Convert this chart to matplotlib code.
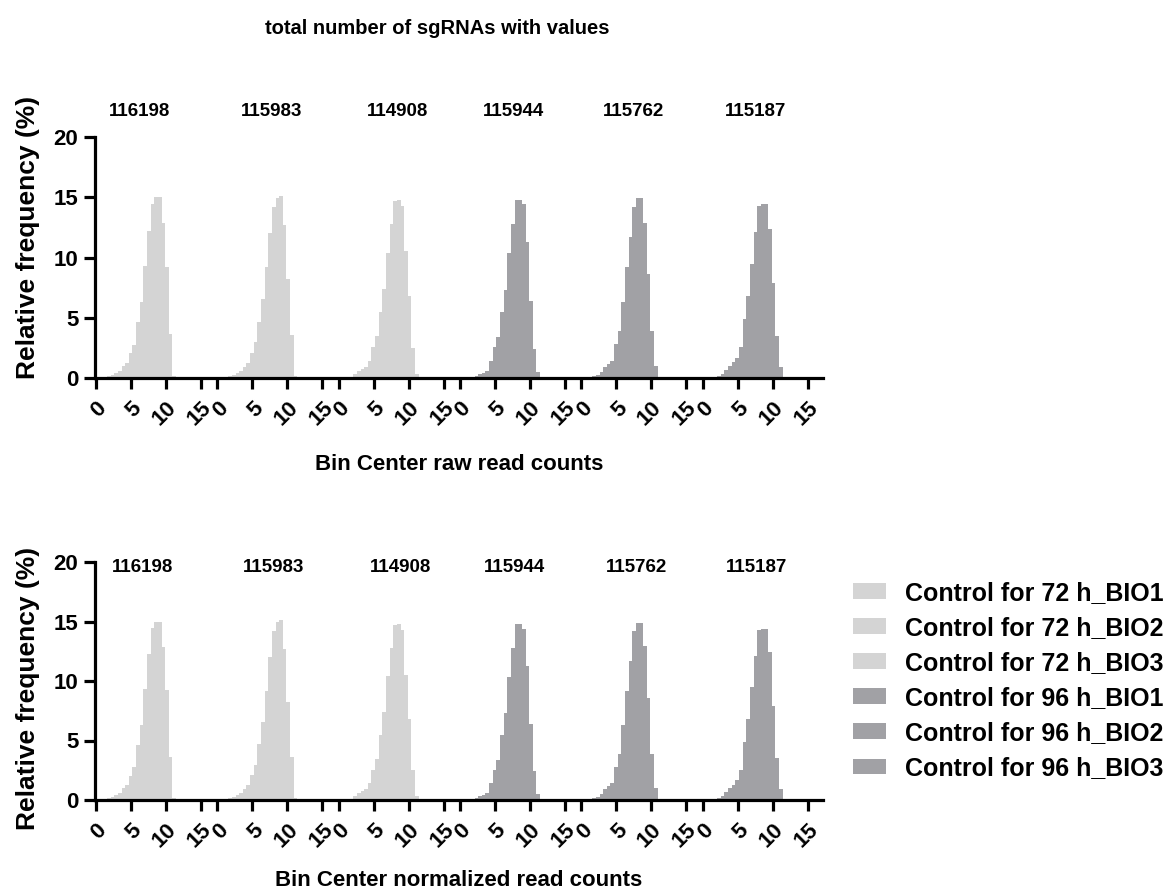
import matplotlib
matplotlib.use("Agg")
import matplotlib.pyplot as plt
from matplotlib.patches import Patch

plt.rcParams["font.family"] = ["Liberation Sans", "DejaVu Sans"]
plt.rcParams["font.weight"] = "bold"

# ---- data -------------------------------------------------------------
series_names = [
    "Control for 72 h_BIO1", "Control for 72 h_BIO2", "Control for 72 h_BIO3",
    "Control for 96 h_BIO1", "Control for 96 h_BIO2", "Control for 96 h_BIO3",
]
sgrna_totals = [116198, 115983, 114908, 115944, 115762, 115187]

bin_width = 0.52
# relative frequency (%) per bin, bins start at 0 (log2 read counts)
raw_72_bio1 = [0.08, 0.10, 0.12, 0.20, 0.25, 0.41, 0.60, 0.97, 1.25, 2.05, 2.77,
               4.62, 6.28, 9.32, 12.23, 14.45, 15.00, 15.00, 12.86, 9.24, 3.65, 0.19]
raw_72_bio2 = [0.05, 0.10, 0.10, 0.15, 0.25, 0.41, 0.60, 0.89, 1.25, 2.08, 2.96,
               4.67, 6.55, 9.18, 12.03, 14.16, 14.94, 15.10, 12.70, 8.20, 3.60, 0.19]
raw_72_bio3 = [0.00, 0.00, 0.00, 0.00, 0.33, 0.60, 0.75, 0.94, 1.44, 2.54, 3.46,
               5.45, 7.39, 10.40, 12.78, 14.70, 14.80, 14.30, 10.50, 6.80, 2.50, 0.30]
raw_96_bio1 = [0.12, 0.12, 0.12, 0.10, 0.20, 0.33, 0.40, 0.60, 1.44, 2.54, 3.37,
               5.45, 7.30, 10.35, 12.80, 14.77, 14.77, 14.40, 11.26, 6.40, 2.40, 0.47]
raw_96_bio2 = [0.05, 0.08, 0.10, 0.15, 0.28, 0.47, 0.90, 1.16, 1.44, 2.80, 3.90,
               6.30, 9.20, 11.70, 14.20, 14.90, 14.90, 12.90, 8.60, 3.90, 1.00, 0.00]
raw_96_bio3 = [0.08, 0.08, 0.08, 0.08, 0.20, 0.33, 0.66, 1.00, 1.30, 1.70, 2.54,
               4.90, 6.83, 9.46, 12.10, 14.30, 14.40, 14.40, 12.40, 7.90, 3.50, 0.90]

norm_72_bio1 = [0.08, 0.10, 0.12, 0.20, 0.25, 0.41, 0.60, 0.97, 1.25, 2.05, 2.77,
                4.62, 6.28, 9.32, 12.23, 14.45, 15.00, 15.00, 12.86, 9.24, 3.65, 0.19]
norm_72_bio2 = [0.05, 0.10, 0.10, 0.15, 0.25, 0.41, 0.60, 0.89, 1.25, 2.08, 2.96,
                4.67, 6.55, 9.18, 12.03, 14.16, 14.94, 15.10, 12.70, 8.20, 3.60, 0.19]
norm_72_bio3 = [0.00, 0.00, 0.00, 0.00, 0.33, 0.60, 0.75, 0.94, 1.44, 2.54, 3.46,
                5.45, 7.39, 10.40, 12.78, 14.70, 14.80, 14.30, 10.50, 6.80, 2.50, 0.30]
norm_96_bio1 = [0.12, 0.12, 0.12, 0.10, 0.20, 0.33, 0.40, 0.60, 1.44, 2.54, 3.37,
                5.45, 7.30, 10.35, 12.80, 14.77, 14.77, 14.40, 11.26, 6.40, 2.40, 0.47]
norm_96_bio2 = [0.05, 0.08, 0.10, 0.15, 0.28, 0.47, 0.90, 1.16, 1.44, 2.80, 3.90,
                6.30, 9.20, 11.70, 14.20, 14.90, 14.90, 12.90, 8.60, 3.90, 1.00, 0.00]
norm_96_bio3 = [0.08, 0.08, 0.08, 0.08, 0.20, 0.33, 0.66, 1.00, 1.30, 1.70, 2.54,
                4.90, 6.83, 9.46, 12.10, 14.30, 14.40, 14.40, 12.40, 7.90, 3.50, 0.90]

raw_series = [raw_72_bio1, raw_72_bio2, raw_72_bio3, raw_96_bio1, raw_96_bio2, raw_96_bio3]
norm_series = [norm_72_bio1, norm_72_bio2, norm_72_bio3, norm_96_bio1, norm_96_bio2, norm_96_bio3]

x_tick_values = [0, 5, 10, 15]
y_tick_values = [0, 5, 10, 15, 20]

# ---- styling / layout -------------------------------------------------
light = "#d4d4d4"
dark = "#a1a1a5"
colors = [light, light, light, dark, dark, dark]
segment_step = 17.34          # horizontal offset between consecutive histograms
total_label_dx_top = [6.2, 7.7, 8.4, 7.7, 7.5, 7.6]
total_label_dx_bot = [6.6, 8.1, 8.9, 7.8, 7.9, 7.7]

W, H = 1175, 893
fig = plt.figure(figsize=(W / 100, H / 100), dpi=100)


def frac_box(x0, y_top, x1, y_bot):
    return [x0 / W, 1 - y_bot / H, (x1 - x0) / W, (y_bot - y_top) / H]


ax_top = fig.add_axes(frac_box(95, 137, 823, 378))
ax_bot = fig.add_axes(frac_box(95, 562, 823, 800))

LW = 2.3


def draw_panel(ax, series, totals_dx, total_y, ylabel_y):
    handles = []
    for i, vals in enumerate(series):
        off = i * segment_step
        lefts = [off + k * bin_width for k in range(len(vals))]
        bc = ax.bar(lefts, vals, width=bin_width, align="edge", color=colors[i],
                    linewidth=0, zorder=2)
        handles.append(bc)
        ax.text(off + totals_dx[i], total_y, str(sgrna_totals[i]), ha="center",
                va="center", fontsize=13.5, fontweight="bold", clip_on=False)
    ticks, labels = [], []
    for i in range(len(series)):
        for t in x_tick_values:
            ticks.append(i * segment_step + t)
            labels.append(str(t))
    ax.set_xticks(ticks)
    ax.set_xticklabels(labels, rotation=45, ha="right", va="top",
                       rotation_mode="anchor", fontsize=16, fontweight="bold")
    ax.set_yticks(y_tick_values)
    ax.set_yticklabels([str(v) for v in y_tick_values], fontsize=16, fontweight="bold")
    ax.set_xlim(-0.15, 103.9)
    ax.set_ylim(0, 20)
    for s in ("top", "right"):
        ax.spines[s].set_visible(False)
    for s in ("left", "bottom"):
        ax.spines[s].set_linewidth(LW)
        ax.spines[s].set_zorder(3)
    ax.tick_params(axis="both", direction="out", length=8, width=LW, pad=4)
    ax.tick_params(axis="x", pad=6)
    ax.set_ylabel("Relative frequency (%)", fontsize=19, fontweight="bold")
    ax.yaxis.set_label_coords(-0.076, ylabel_y)
    return handles


handles = draw_panel(ax_top, raw_series, total_label_dx_top, 22.1, 0.585)
draw_panel(ax_bot, norm_series, total_label_dx_bot, 19.5, 0.47)

fig.text(459 / W, 1 - 465 / H, "Bin Center raw read counts", ha="center", va="center",
         fontsize=16, fontweight="bold")
fig.text(459 / W, 1 - 880 / H, "Bin Center normalized read counts", ha="center",
         va="center", fontsize=16, fontweight="bold")
fig.text(437 / W, 1 - 28 / H, "total number of sgRNAs with values", ha="center",
         va="center", fontsize=14.5, fontweight="bold")

legend_handles = [Patch(facecolor=c, edgecolor="none") for c in colors]
fig.legend(legend_handles, series_names, loc="center left",
           bbox_to_anchor=(853 / W, 1 - 680.5 / H), frameon=False,
           handlelength=1.32, handleheight=0.6, handletextpad=0.75,
           labelspacing=0.445, borderpad=0, borderaxespad=0,
           prop={"weight": "bold", "size": 18})

fig.savefig("out.png", dpi=100)
